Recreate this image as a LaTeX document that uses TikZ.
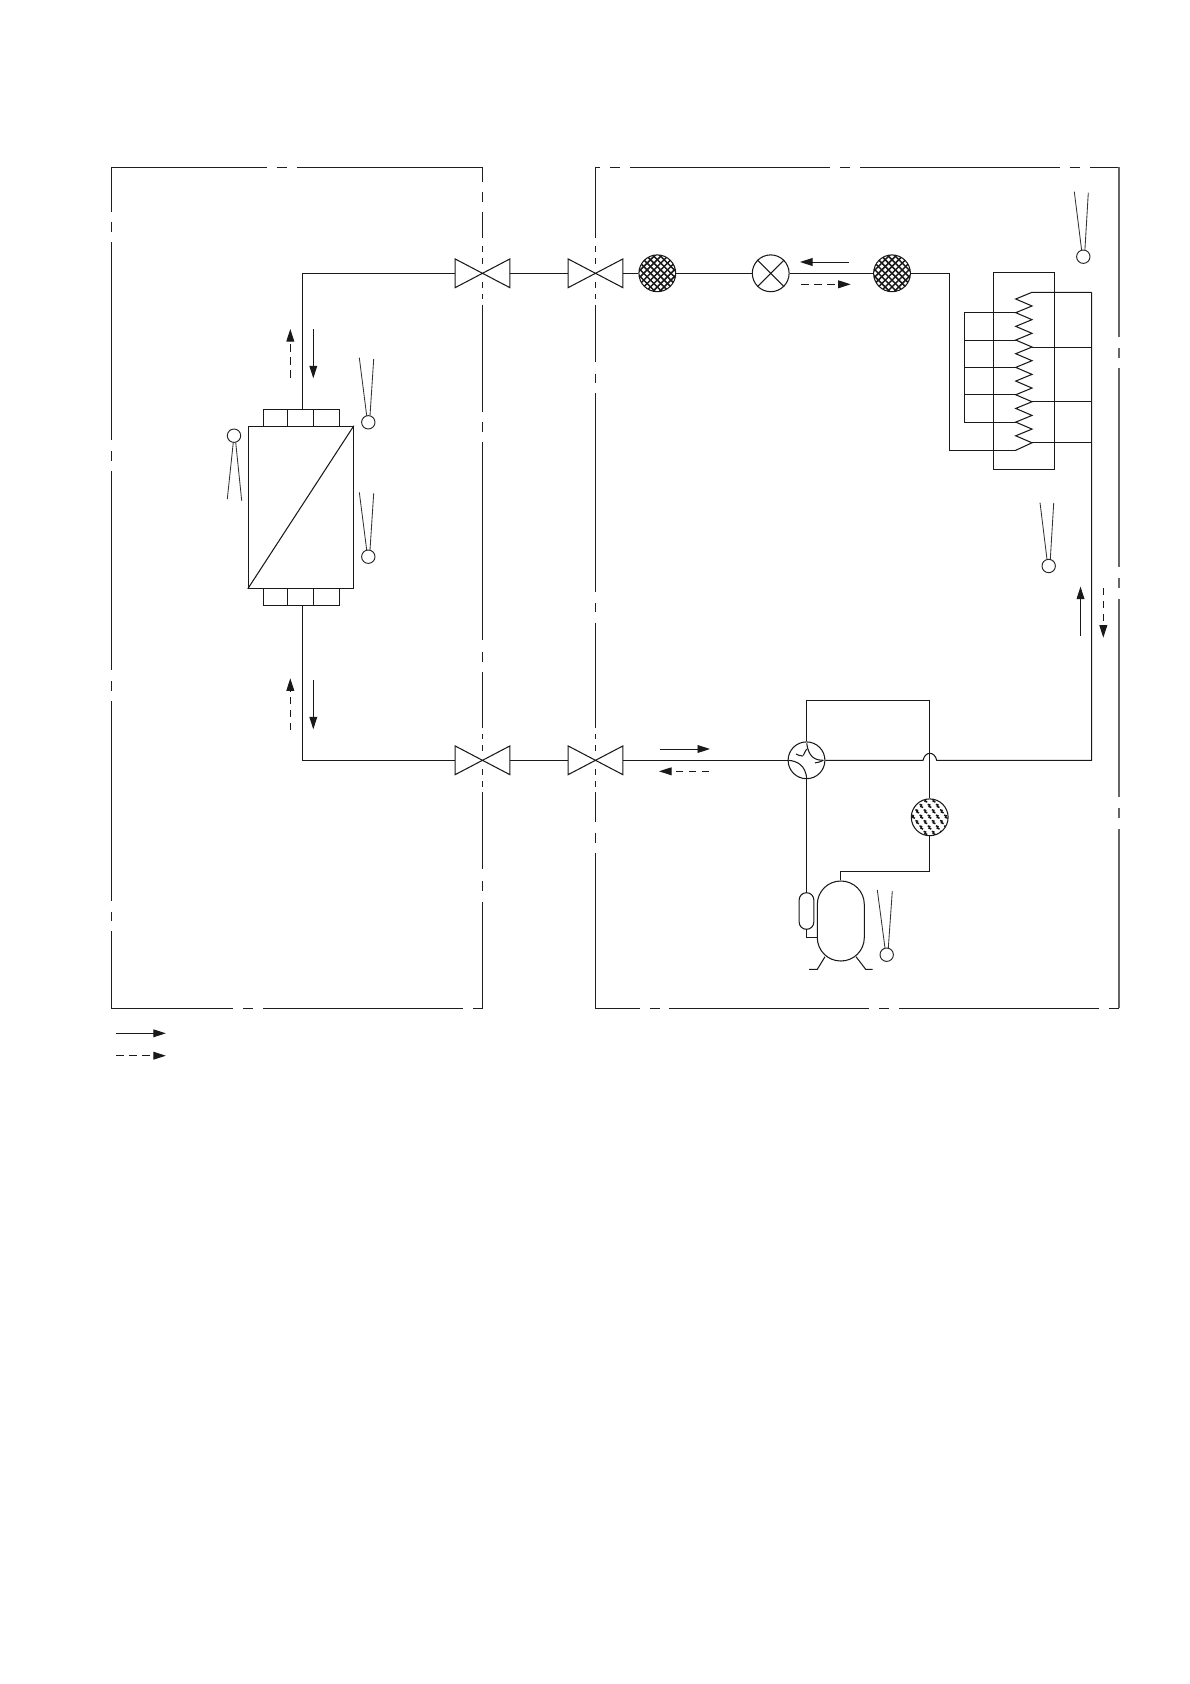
\documentclass[tikz,border=0pt]{standalone}
\usetikzlibrary{arrows.meta}
\tikzset{
  pipe/.style={line width=1.05pt,black!90,line join=miter},
  bnd/.style={line width=1.05pt,black!88},
  bndg/.style={line width=1.05pt,black!60},
  thinl/.style={line width=0.85pt,black!80},
  flow/.style={line width=0.95pt,black!90,-{Triangle[length=12.5pt,width=7.8pt]}},
  flowd/.style={flow,dash pattern=on 7.5pt off 5.5pt},
  sens/.style={circle,draw,line width=0.95pt,black!85,fill=white,minimum size=13.4pt,inner sep=0pt},
  valvebox/.style={rectangle,minimum width=54.5pt,minimum height=28.4pt,inner sep=0pt},
  rnd/.style={circle,draw,line width=1.05pt,black!90,fill=white,minimum size=36.8pt,inner sep=0pt},
  mesh/.style={rnd,path picture={
    \foreach \d in {-40.8,-34,...,40.8}{
      \draw[line width=1.5pt,black!90] ([xshift=\d pt-30pt,yshift=-30pt]path picture bounding box.center) -- ([xshift=\d pt+30pt,yshift=30pt]path picture bounding box.center);
      \draw[line width=1.5pt,black!90] ([xshift=\d pt-30pt,yshift=30pt]path picture bounding box.center) -- ([xshift=\d pt+30pt,yshift=-30pt]path picture bounding box.center);
    }}},
  speck/.style={rnd,path picture={
    \foreach \i in {-4,...,4}{\foreach \j in {-4,...,4}{
      \draw[line width=1.5pt,black!92] ([xshift=\i*8.2pt+\j*4.1pt-2pt,yshift=\j*5.4pt+2.2pt]path picture bounding box.center) -- ++(2pt,-0.7pt) -- ++(-0.6pt,-1.5pt) -- ++(2.2pt,-1pt);
    }}}},
  box/.style={rectangle,draw,line width=1.05pt,black!90,inner sep=0pt}
}
\begin{document}
\begin{tikzpicture}[x=1pt,y=-1pt]
\fill[white] (0,0) rectangle (1190,1684);
\useasboundingbox (0,0) rectangle (1190,1684);
% left enclosure
\draw[bnd] (266.7,167.3) -- (111.5,167.3) -- (111.5,211.7);
\foreach \a/\b in {221.7/231.7,241.8/439.8,451/461.2,471/670,681/691,701/900.5,911.7/921.4}
  \draw[bnd] (111.5,\a) -- (111.5,\b);
\draw[bnd] (111.5,931) -- (111.5,1008.3) -- (232.8,1008.3);
\draw[bnd] (243,1008.3) -- (253,1008.3);
\draw[bnd] (263,1008.3) -- (462.8,1008.3);
\draw[bnd] (473,1008.3) -- (482.3,1008.3) -- (482.3,1000);
\draw[bnd] (276.7,167.3) -- (287.3,167.3);
\draw[bnd] (296.7,167.3) -- (482.3,167.3) -- (482.3,181.7);
\foreach \a/\b in {192.3/202.3,212.3/238,246/252,258/264,282/288,294/299,304.6/411.7,422/432,442/640,651.5/661.7,671.7/728,734/739,745/751,769/775,781/787,792/869,881/891,901.5/1000}
  \draw[bnd] (482.3,\a) -- (482.3,\b);
% right enclosure
\draw[bnd] (599.6,167.3) -- (595.6,167.3) -- (595.6,238);
\foreach \a/\b in {246/252,258/264,282/288,294/299,304.6/362,373.5/382.6,393/592,603/612,622.5/728,734/739,745/751,769/775,781/787,792/822,832.6/843}
  \draw[bnd] (595.6,\a) -- (595.6,\b);
\draw[bnd] (595.6,853) -- (595.6,1008.3) -- (639.6,1008.3);
\draw[bnd] (610,167.3) -- (620,167.3);
\draw[bnd] (630,167.3) -- (830,167.3);
\draw[bnd] (840,167.3) -- (850,167.3);
\draw[bnd] (860,167.3) -- (1060,167.3);
\draw[bnd] (1069.7,167.3) -- (1080,167.3);
\draw[bnd] (1090,167.3) -- (1119,167.3);
\draw[bnd] (650,1008.3) -- (660,1008.3);
\draw[bnd] (669,1008.3) -- (869,1008.3);
\draw[bnd] (879,1008.3) -- (889,1008.3);
\draw[bnd] (899,1008.3) -- (1099,1008.3);
\draw[bnd] (1109,1008.3) -- (1119,1008.3);
\foreach \a/\b in {167.3/336.7,348/358,368/567,578/588,598.5/797,808/818,828.6/1008.3}
  \draw[bndg] (1119,\a) -- (1119,\b);

% valves
\node[valvebox] (v1) at (482.5,273.3) {};
\node[valvebox] (v2) at (595.5,273.3) {};
\node[valvebox] (v3) at (482.5,760.3) {};
\node[valvebox] (v4) at (595.5,760.3) {};
\foreach \v in {v1,v2,v3,v4}
  \draw[pipe] (\v.north west) -- (\v.south east) -- (\v.north east) -- (\v.south west) -- cycle;

% components on the top line
\node[mesh] (f1) at (657.3,273.3) {};
\node[rnd] (ev) at (770.7,273.3) {};
\node[mesh] (f2) at (892,273.3) {};
\draw[pipe] (ev.north west) -- (ev.south east) (ev.north east) -- (ev.south west);

% heat exchanger
\node[box,minimum width=105pt,minimum height=162pt] (hx) at (300.8,507.3) {};
\draw[pipe] (hx.south west) -- (hx.north east);
\node[box,minimum width=24pt,minimum height=17pt] (ht1) at (275.3,417.8) {};
\node[box,minimum width=26pt,minimum height=17pt] (ht2) at (300.3,417.8) {};
\node[box,minimum width=26pt,minimum height=17pt] (ht3) at (326.3,417.8) {};
\node[box,minimum width=24pt,minimum height=17pt] (hb1) at (275.3,596.8) {};
\node[box,minimum width=26pt,minimum height=17pt] (hb2) at (300.3,596.8) {};
\node[box,minimum width=26pt,minimum height=17pt] (hb3) at (326.3,596.8) {};
\coordinate (pt) at (302.3,409.3);
\coordinate (pb) at (302.3,605.3);

% pipes on the left
\draw[pipe] (pt) |- (v1.west);
\draw[pipe] (pb) |- (v3.west);
\draw[pipe] (v1.east) -- (v2.west);
\draw[pipe] (v3.east) -- (v4.west);
\draw[pipe] (v2.east) -- (f1.west);
\draw[pipe] (f1.east) -- (ev.west);
\draw[pipe] (ev.east) -- (f2.west);

% coil
\node[box,minimum width=61pt,minimum height=197pt] (coil) at (1023.8,370.8) {};
\foreach \k in {0,...,11}{
  \coordinate (R\k) at (1032,292.3+13.68*\k);
  \coordinate (L\k) at (1015.7,299+13.68*\k);
}
\coordinate (L11) at (1015.7,450.3);
\coordinate (busTop) at (1091.7,292.3);
\coordinate (busLeftTop) at (964.3,313);
\coordinate (busLeftBot) at (964.3,422);
\draw[pipe] (busTop) -- (R0)
  foreach \k/\n in {0/1,1/2,2/3,3/4,4/5,5/6,6/7,7/8,8/9,9/10,10/11}{ -- (L\k) -- (R\n)} -- (L11);
\draw[pipe] (L9) -- (L9 -| busLeftTop) -- (L1 -| busLeftTop) -- (L1);
\draw[pipe] (L3) -- (L3 -| busLeftTop);
\draw[pipe] (L5) -- (L5 -| busLeftTop);
\draw[pipe] (L7) -- (L7 -| busLeftTop);
\draw[pipe] (R4) -- (R4 -| busTop);
\draw[pipe] (R8) -- (R8 -| busTop);
\draw[pipe] (R11) -- (R11 -| busTop);
\coordinate (f2t) at (949.5,273.3);
\draw[pipe] (f2.east) -- (f2t) |- (L11);

% four way valve
\node[rnd] (fw) at (806.5,760.3) {};
\draw[pipe] (806.7,743.3) .. controls (808.5,757) and (815,760.3) .. (823.3,760.3);
\draw[pipe] (788.3,760.3) .. controls (798,761) and (805.5,766) .. (806.7,778.3);
\draw[pipe] (803.3,755.5) .. controls (804.2,753) and (805.5,751) .. (806.7,749);
\draw[pipe] (815,762.9) .. controls (818,762.7) and (820.5,761.7) .. (823.3,760.3);
\draw[pipe] (796,754) .. controls (798,755.2) and (800,755.8) .. (803,756);

% right and bottom pipes
\coordinate (busBot) at (1091.7,760.3);
\coordinate (bl) at (923,760.3);
\coordinate (br) at (936.7,760.3);
\draw[pipe] (busTop) -- (busBot) -- (br) .. controls (934.7,751) and (925,751) .. (bl) -- (fw.east);
\draw[pipe] (v4.east) -- (fw.west);

\node[speck] (f3) at (929.7,817.3) {};
\node[box,rounded corners=23.4pt,minimum width=47pt,minimum height=80pt] (comp) at (840.8,921) {};
\node[box,rounded corners=7.3pt,minimum width=14.7pt,minimum height=36.6pt] (acc) at (806.5,911) {};
\coordinate (topL) at (806.5,700.7);
\coordinate (topR) at (929.7,700.7);
\coordinate (dis) at (929.7,871.7);
\coordinate (j) at (806.5,937.3);
\draw[pipe] (fw.north) -- (topL) -- (topR) -- (f3.north);
\draw[pipe] (f3.south) -- (dis) -| (comp.north);
\draw[pipe] (fw.south) -- (acc.north);
\draw[pipe] (acc.south) -- (j) -- (j -| comp.west);
% compressor feet
\coordinate (fa) at (825,956.7);
\coordinate (fb) at (817.3,969.3);
\coordinate (fc) at (809,969.3);
\coordinate (fd) at (856,956.7);
\coordinate (fe) at (865.7,969.3);
\coordinate (ff) at (872.7,969.3);
\draw[pipe] (fa) -- (fb) -- (fc);
\draw[pipe] (fd) -- (fe) -- (ff);

% temperature sensors
\node[sens] (s1) at (234,435.7) {};
\coordinate (s1a) at (227.3,499);
\coordinate (s1b) at (241.7,500.7);
\draw[thinl] (233.3,442.3) -- (s1a);
\draw[thinl] (235.7,442.3) -- (s1b);
\node[sens] (s2) at (368.3,422.3) {};
\coordinate (s2a) at (359.3,357.7);
\coordinate (s2b) at (373.7,359);
\draw[thinl] (366.7,415.7) -- (s2a);
\draw[thinl] (370,415.7) -- (s2b);
\node[sens] (s3) at (368.3,556.7) {};
\coordinate (s3a) at (359.3,492.3);
\coordinate (s3b) at (373.7,493.3);
\draw[thinl] (366.7,550) -- (s3a);
\draw[thinl] (370,550) -- (s3b);
\node[sens] (s4) at (1083.3,256.7) {};
\coordinate (s4a) at (1074.3,191.7);
\coordinate (s4b) at (1088.3,192.7);
\draw[thinl] (1081.6,250) -- (s4a);
\draw[thinl] (1084.9,250) -- (s4b);
\node[sens] (s5) at (1048.7,566) {};
\coordinate (s5a) at (1040,502.6);
\coordinate (s5b) at (1053.7,503);
\draw[thinl] (1047,559.3) -- (s5a);
\draw[thinl] (1050.3,559.3) -- (s5b);
\node[sens] (s6) at (886.7,954.7) {};
\coordinate (s6a) at (877.3,890);
\coordinate (s6b) at (892.3,891);
\draw[thinl] (885,948) -- (s6a);
\draw[thinl] (888.3,948) -- (s6b);

% flow arrows
\coordinate (a1) at (849,262); \coordinate (a1e) at (800,262);
\coordinate (a2) at (801,284.3); \coordinate (a2e) at (850.7,284.3);
\coordinate (a3) at (660,749); \coordinate (a3e) at (710,749);
\coordinate (a4) at (709.3,771.3); \coordinate (a4e) at (659,771.3);
\coordinate (a5) at (313.3,329); \coordinate (a5e) at (313.3,378.3);
\coordinate (a6) at (290.3,377.7); \coordinate (a6e) at (290.3,329);
\coordinate (a7) at (313.3,680); \coordinate (a7e) at (313.3,729.3);
\coordinate (a8) at (290.3,730); \coordinate (a8e) at (290.3,678.3);
\coordinate (a9) at (1080.5,636); \coordinate (a9e) at (1080.5,586.6);
\coordinate (a10) at (1103.3,587.8); \coordinate (a10e) at (1103.3,637.7);
\draw[flow] (a1) -- (a1e);
\draw[flowd] (a2) -- (a2e);
\draw[flow] (a3) -- (a3e);
\draw[flowd] (a4) -- (a4e);
\draw[flow] (a5) -- (a5e);
\draw[flowd] (a6) -- (a6e);
\draw[flow] (a7) -- (a7e);
\draw[flowd] (a8) -- (a8e);
\draw[flow] (a9) -- (a9e);
\draw[flowd] (a10) -- (a10e);
% legend
\coordinate (l1) at (116,1033.3); \coordinate (l1e) at (165.8,1033.3);
\coordinate (l2) at (116,1055.7); \coordinate (l2e) at (165.8,1055.7);
\draw[flow] (l1) -- (l1e);
\draw[flowd] (l2) -- (l2e);
\end{tikzpicture}
\end{document}
